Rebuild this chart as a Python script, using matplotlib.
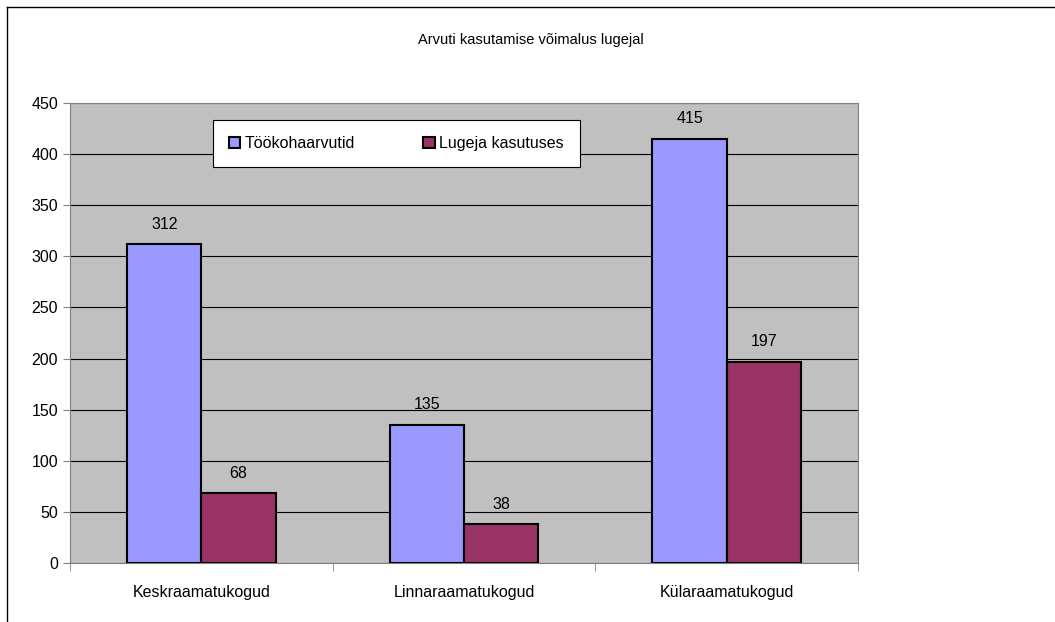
import matplotlib.pyplot as plt
import numpy as np

categories = ['Keskraamatukogud', 'Linnaraamatukogud', 'Külaraamatukogud']
series_names = ['Töökohaarvutid', 'Lugeja kasutuses']
workplace = [312, 135, 415]
reader_use = [68, 38, 197]

plt.rcParams['font.family'] = ['Liberation Sans', 'DejaVu Sans']

fig = plt.figure(figsize=(10.55, 6.22), dpi=100)
ax = fig.add_axes([0.0664, 0.0949, 0.747, 0.7395])

x = np.arange(len(categories))
w = 0.283
b1 = ax.bar(x - w / 2, workplace, w, color='#9999FF', edgecolor='black', linewidth=1.5,
            label=series_names[0], zorder=3)
b2 = ax.bar(x + w / 2, reader_use, w, color='#993366', edgecolor='black', linewidth=1.5,
            label=series_names[1], zorder=3)
for bars in (b1, b2):
    ax.bar_label(bars, padding=9, fontsize=11.5)

ax.set_facecolor('#C0C0C0')
ax.set_xlim(-0.5, 2.5)
ax.set_ylim(0, 450)
ax.set_yticks(range(0, 451, 50))
ax.yaxis.grid(True, color='black', linewidth=0.8, zorder=0)
ax.set_axisbelow(True)

# category labels centred, tick marks between the groups
ax.set_xticks(x)
ax.set_xticklabels(categories, fontsize=11.5)
ax.tick_params(axis='x', length=0, pad=16)
ax.set_xticks([-0.5, 0.5, 1.5, 2.5], minor=True)
ax.tick_params(axis='x', which='minor', length=6, color='#808080')
ax.tick_params(axis='y', labelsize=11.5, length=5, color='#808080')

for s in ax.spines.values():
    s.set_color('#808080')

leg = ax.legend(loc='upper left', bbox_to_anchor=(0.181, 0.963, 0.466, 0.0),
                ncol=2, mode='expand', fontsize=11.5, frameon=True, fancybox=False,
                handlelength=0.7, handleheight=0.7, handletextpad=0.3,
                borderpad=1.0, edgecolor='black', facecolor='white', framealpha=1,
                borderaxespad=0)
leg.get_frame().set_linewidth(0.8)

fig.text(0.503, 0.935, 'Arvuti kasutamise võimalus lugejal', ha='center', va='center',
         fontsize=10.5)

# outer chart border (left and top edges visible)
fig.add_artist(plt.Line2D([0.0066, 1.0], [0.989, 0.989], color='black', linewidth=1))
fig.add_artist(plt.Line2D([0.0066, 0.0066], [0.0, 0.989], color='black', linewidth=1))

fig.savefig('out.png', dpi=100)
